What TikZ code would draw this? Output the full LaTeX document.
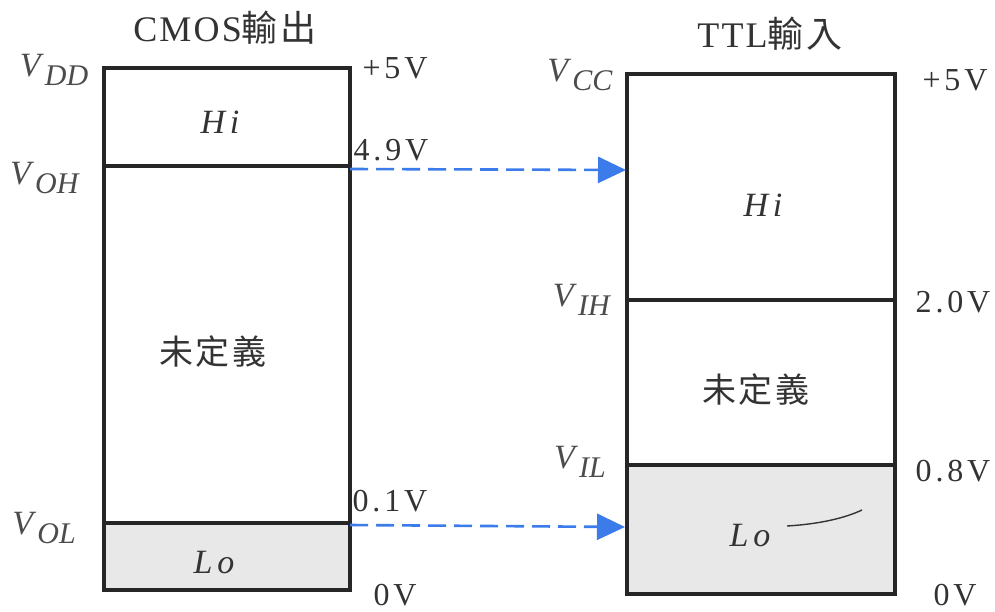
\documentclass[tikz,border=0pt]{standalone}
\usepackage{fontspec}
\setmainfont{Liberation Serif}
\newfontfamily\cjk{Noto Sans CJK TC}[LetterSpace=8]
\usetikzlibrary{arrows.meta}
\definecolor{arrblue}{HTML}{3B7BEA}
\definecolor{lofill}{HTML}{E8E8E8}
\newcommand{\VV}[1]{\textit{V}\kern1pt\raisebox{-0.25em}{\fontsize{30}{32}\selectfont\textit{#1}}}
\tikzset{
  boxline/.style={line width=4pt, draw=black!85},
  sepline/.style={line width=3.5pt, draw=black!85},
  arr/.style={arrblue, line width=2.6pt, dash pattern=on 18pt off 8pt,
    -{Triangle[length=28pt,width=26pt]}, shorten >=0pt},
  title/.style={font=\fontsize{36}{40}\selectfont\addfontfeature{LetterSpace=6}, text=black!80},
  val/.style={font=\fontsize{32}{36}\selectfont\addfontfeature{LetterSpace=12}, text=black!80, inner sep=0pt},
  vlab/.style={font=\fontsize{34}{38}\selectfont, text=black!70, inner sep=0pt},
  zone/.style={font=\fontsize{34}{38}\selectfont\itshape\addfontfeature{LetterSpace=14}, text=black!80, inner sep=0pt},
  cjklab/.style={font=\fontsize{34}{38}\selectfont\cjk, text=black!80, inner sep=0pt},
}
\begin{document}
\begin{tikzpicture}[x=1pt,y=-1pt]
\useasboundingbox[fill=white] (0,0) rectangle (995,612);
% ---------- left box (CMOS output)
\fill[lofill] (104,523) rectangle (350,590);
\draw[boxline] (104,68) rectangle (350,590);
\draw[sepline] (104,166) -- (350,166);
\draw[sepline] (104,523) -- (350,523);
% ---------- right box (TTL input)
\fill[lofill] (627,465) rectangle (895,594);
\draw[boxline] (627,74) rectangle (895,594);
\draw[sepline] (627,300) -- (895,300);
\draw[sepline] (627,465) -- (895,465);
\draw[black!80, line width=1.4pt] (787,526) .. controls (820,524) and (845,518) .. (862,510);
% ---------- titles
\node[title] (t1) at (225,28) {CMOS{\cjk 輸出}};
\node[title] (t2) at (770,34) {TTL{\cjk 輸入}};
% ---------- left labels
\node[vlab] (vdd) at (54,70) {\VV{DD}};
\node[vlab] (voh) at (45,178) {\VV{OH}};
\node[vlab] (vol) at (44,528) {\VV{OL}};
\node[val] (l5) at (395,68) {+5V};
\node[val] (l49) at (391,150) {4.9V};
\node[val] (l01) at (390,501) {0.1V};
\node[val] (l0) at (395,595) {0V};
\node[zone] (lhi) at (220,122) {Hi};
\node[cjklab] (lu) at (213,352) {未定義};
\node[zone] (llo) at (214,563) {Lo};
% ---------- right labels
\node[vlab] (vcc) at (580,75) {\VV{CC}};
\node[vlab] (vih) at (582,300) {\VV{IH}};
\node[vlab] (vil) at (580,462) {\VV{IL}};
\node[val] (r5) at (955,80) {+5V};
\node[val] (r20) at (953,302) {2.0V};
\node[val] (r08) at (953,471) {0.8V};
\node[val] (r0) at (955,595) {0V};
\node[zone] (rhi) at (763,205) {Hi};
\node[cjklab] (ru) at (756,390) {未定義};
\node[zone] (rlo) at (750,536) {Lo};
% ---------- arrows
\coordinate (a1) at (350,169);
\coordinate (b1) at (626,170);
\coordinate (a2) at (350,525);
\coordinate (b2) at (625,527);
\draw[arr] (a1) -- (b1);
\draw[arr] (a2) -- (b2);
\end{tikzpicture}
\end{document}
